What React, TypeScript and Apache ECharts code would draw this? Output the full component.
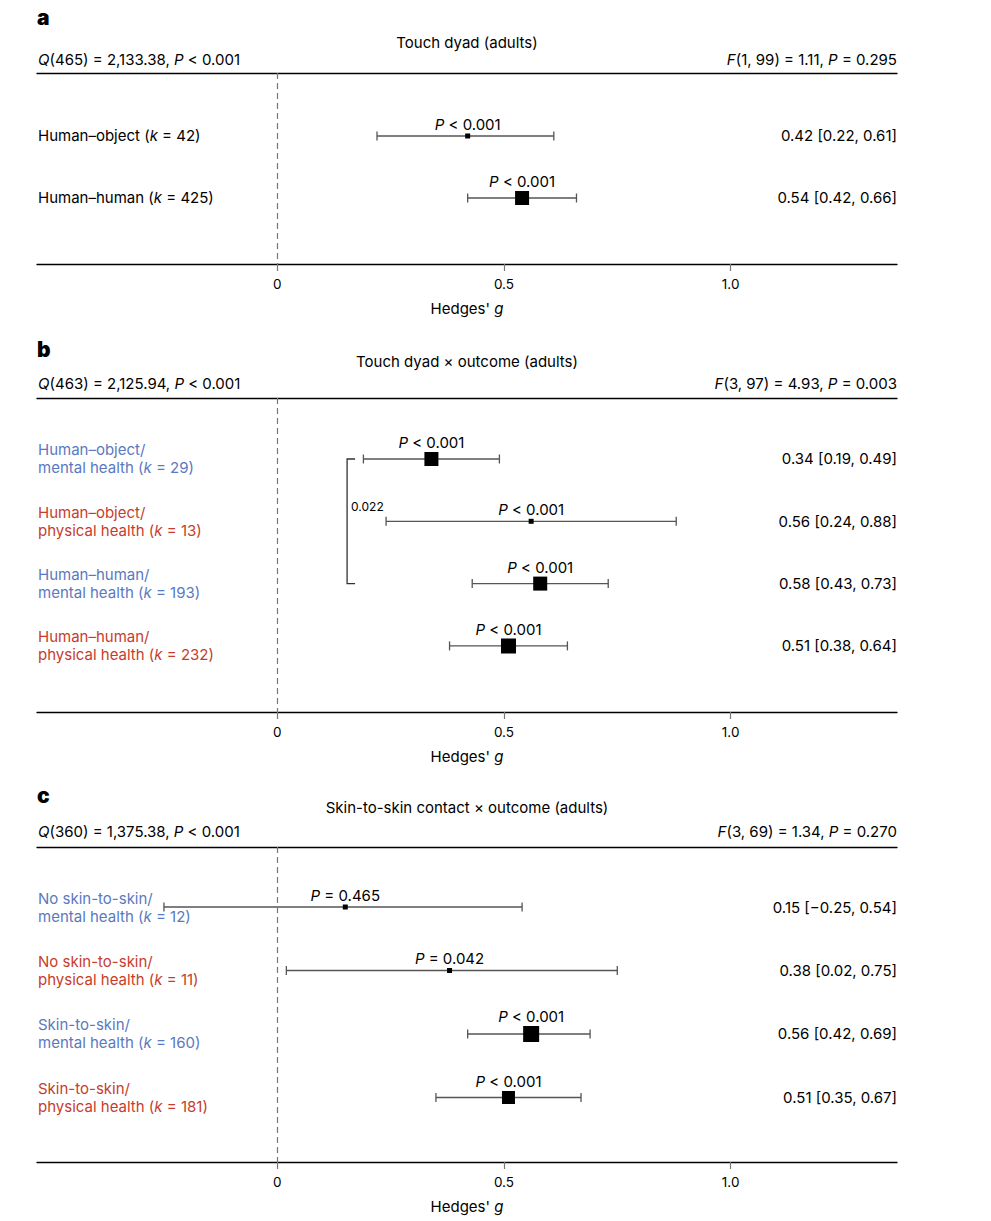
import React, { useEffect, useRef } from "react";
import * as echarts from "echarts";

// ---------- DATA ----------
const panelLetters = ["a", "b", "c"];
const panelTitles = [
  "Touch dyad (adults)",
  "Touch dyad × outcome (adults)",
  "Skin-to-skin contact × outcome (adults)",
];
const qStats = [
  "{i|Q}(465) = 2,133.38, {i|P} < 0.001",
  "{i|Q}(463) = 2,125.94, {i|P} < 0.001",
  "{i|Q}(360) = 1,375.38, {i|P} < 0.001",
];
const fStats = [
  "{i|F}(1, 99) = 1.11, {i|P} = 0.295",
  "{i|F}(3, 97) = 4.93, {i|P} = 0.003",
  "{i|F}(3, 69) = 1.34, {i|P} = 0.270",
];

// Panel a
const aCategories = ["Human–object", "Human–human"];
const aK = [42, 425];
const aOutcome = ["", ""];
const aEst = [0.42, 0.54];
const aLo = [0.22, 0.42];
const aHi = [0.61, 0.66];
const aP = ["< 0.001", "< 0.001"];
const aWeight = [5, 14];

// Panel b
const bCategories = [
  "Human–object/",
  "Human–object/",
  "Human–human/",
  "Human–human/",
];
const bK = [29, 13, 193, 232];
const bOutcome = ["mental health", "physical health", "mental health", "physical health"];
const bEst = [0.34, 0.56, 0.58, 0.51];
const bLo = [0.19, 0.24, 0.43, 0.38];
const bHi = [0.49, 0.88, 0.73, 0.64];
const bP = ["< 0.001", "< 0.001", "< 0.001", "< 0.001"];
const bWeight = [14, 5, 14, 15];
const bContrast = { from: 1, to: 3, p: "0.022" };

// Panel c
const cCategories = [
  "No skin-to-skin/",
  "No skin-to-skin/",
  "Skin-to-skin/",
  "Skin-to-skin/",
];
const cK = [12, 11, 160, 181];
const cOutcome = ["mental health", "physical health", "mental health", "physical health"];
const cEst = [0.15, 0.38, 0.56, 0.51];
const cLo = [-0.25, 0.02, 0.42, 0.35];
const cHi = [0.54, 0.75, 0.69, 0.67];
const cP = ["= 0.465", "= 0.042", "< 0.001", "< 0.001"];
const cWeight = [5, 5, 16, 13];

const xTicks = [0, 0.5, 1.0];

// ---------- LAYOUT ----------
const FONT = "Inter";
const FS = 15;
const BLUE = "#5a79c0";
const RED = "#c63d2b";
const X_MIN = -0.53;
const X_MAX = 1.367;
const LEFT = 37;
const RIGHT_EDGE = 897;
const W = 991;
const H = 1221;

const panels = [
  {
    cats: aCategories, k: aK, outcome: aOutcome, est: aEst, lo: aLo, hi: aHi, p: aP, w: aWeight,
    top: 73, height: 191, yMin: -0.016, yMax: 3.065,
    letterY: 18, titleY: 42, titleX: 467, statY: 59,
  },
  {
    cats: bCategories, k: bK, outcome: bOutcome, est: bEst, lo: bLo, hi: bHi, p: bP, w: bWeight,
    top: 398, height: 314, yMin: 0.021, yMax: 5.061,
    letterY: 350, titleY: 361, titleX: 467, statY: 383,
  },
  {
    cats: cCategories, k: cK, outcome: cOutcome, est: cEst, lo: cLo, hi: cHi, p: cP, w: cWeight,
    top: 847, height: 315, yMin: 0.055, yMax: 5.016,
    letterY: 796, titleY: 807, titleX: 467, statY: 831,
  },
];

function colorFor(outcome: string) {
  if (outcome.startsWith("mental")) return BLUE;
  if (outcome.startsWith("physical")) return RED;
  return "#000";
}

const italicRich = (fill: string, extra: any = {}) => ({
  i: { fontStyle: "italic", fontSize: FS, fontFamily: FONT, fill, ...extra },
});

export default function App() {
  const ref = useRef<HTMLDivElement>(null);

  useEffect(() => {
    if (!ref.current) return;
    const chart = echarts.init(ref.current, null, { renderer: "svg" });

    const grids: any[] = [];
    const xAxes: any[] = [];
    const yAxes: any[] = [];
    const series: any[] = [];
    const graphics: any[] = [];

    panels.forEach((pn, gi) => {
      grids.push({ left: LEFT, right: W - RIGHT_EDGE, top: pn.top, height: pn.height, containLabel: false });
      // bottom axis
      xAxes.push({
        type: "value",
        gridIndex: gi,
        position: "bottom",
        min: X_MIN,
        max: X_MAX,
        axisLine: { show: true, onZero: false, lineStyle: { color: "#000", width: 1.3 } },
        axisTick: { show: true, customValues: xTicks, length: 7, lineStyle: { color: "#777", width: 1.2 } },
        axisLabel: {
          show: true,
          customValues: xTicks,
          margin: 13,
          fontSize: 13.5,
          fontFamily: FONT,
          color: "#000",
          formatter: (v: number) => (v === 0 ? "0" : v.toFixed(1)),
        },
        splitLine: { show: false },
        name: "Hedges' {i|g}",
        nameLocation: "middle",
        nameGap: 37,
        nameTextStyle: {
          fontSize: FS,
          fontFamily: FONT,
          color: "#000",
          rich: { i: { fontStyle: "italic", fontSize: FS, fontFamily: FONT, color: "#000" } },
        },
      });
      // top border
      xAxes.push({
        type: "value",
        gridIndex: gi,
        position: "top",
        min: X_MIN,
        max: X_MAX,
        axisLine: { show: true, onZero: false, lineStyle: { color: "#000", width: 1.3 } },
        axisTick: { show: false },
        axisLabel: { show: false },
        splitLine: { show: false },
      });
      yAxes.push({
        type: "value",
        gridIndex: gi,
        min: pn.yMin,
        max: pn.yMax,
        inverse: true,
        show: false,
        splitLine: { show: false },
      });

      const data = pn.est.map((e, i) => [e, pn.lo[i], pn.hi[i], i + 1, pn.w[i]]);
      series.push({
        type: "custom",
        xAxisIndex: gi * 2,
        yAxisIndex: gi,
        data,
        clip: false,
        renderItem: (params: any, api: any) => {
          const i = params.dataIndex;
          const est = api.value(0);
          const lo = api.value(1);
          const hi = api.value(2);
          const row = api.value(3);
          const size = api.value(4);
          const pE = api.coord([est, row]);
          const pL = api.coord([lo, row]);
          const pH = api.coord([hi, row]);
          const y = pE[1];
          const cap = 4.5;
          const col = colorFor(pn.outcome[i]);
          const labelText = pn.outcome[i]
            ? `${pn.cats[i]}\n${pn.outcome[i]} ({i|k} = ${pn.k[i]})`
            : `${pn.cats[i]} ({i|k} = ${pn.k[i]})`;
          const fmt = (v: number) => (v < 0 ? "−" + Math.abs(v).toFixed(2) : v.toFixed(2));
          return {
            type: "group",
            children: [
              { type: "line", shape: { x1: pL[0], y1: y, x2: pH[0], y2: y }, style: { stroke: "#555", lineWidth: 1.3 } },
              { type: "line", shape: { x1: pL[0], y1: y - cap, x2: pL[0], y2: y + cap }, style: { stroke: "#555", lineWidth: 1.3 } },
              { type: "line", shape: { x1: pH[0], y1: y - cap, x2: pH[0], y2: y + cap }, style: { stroke: "#555", lineWidth: 1.3 } },
              { type: "rect", shape: { x: pE[0] - size / 2, y: y - size / 2, width: size, height: size }, style: { fill: "#000" } },
              {
                type: "text",
                x: pE[0],
                y: y - size / 2 - 9,
                style: {
                  text: `{i|P} ${pn.p[i]}`,
                  align: "center",
                  verticalAlign: "middle",
                  fontSize: FS,
                  fontFamily: FONT,
                  fill: "#000",
                  rich: italicRich("#000"),
                },
              },
              {
                type: "text",
                x: 38,
                y: y,
                style: {
                  text: labelText,
                  align: "left",
                  verticalAlign: "middle",
                  fontSize: FS,
                  lineHeight: 18,
                  fontFamily: FONT,
                  fill: col,
                  rich: italicRich(col, { lineHeight: 18 }),
                },
              },
              {
                type: "text",
                x: RIGHT_EDGE,
                y: y,
                style: {
                  text: `${fmt(est)} [${fmt(lo)}, ${fmt(hi)}]`,
                  align: "right",
                  verticalAlign: "middle",
                  fontSize: FS,
                  fontFamily: FONT,
                  fill: "#000",
                },
              },
            ],
          };
        },
        markLine: {
          silent: true,
          symbol: ["none", "none"],
          label: { show: false },
          lineStyle: { type: [6, 4], color: "#777", width: 1.2 },
          data: [{ xAxis: 0 }],
        },
        z: 3,
      });

      // header texts
      graphics.push(
        {
          type: "text",
          left: 37,
          top: pn.letterY - 11,
          style: { text: panelLetters[gi], fontSize: 21, fontWeight: 900, fontFamily: "Inter", fill: "#000" },
        },
        {
          type: "text",
          x: pn.titleX,
          y: pn.titleY,
          style: { text: panelTitles[gi], fontSize: FS, fontFamily: FONT, fill: "#000", align: "center", verticalAlign: "middle" },
        },
        {
          type: "text",
          x: 38,
          y: pn.statY,
          style: {
            text: qStats[gi],
            fontSize: FS,
            fontFamily: FONT,
            fill: "#000",
            align: "left",
            verticalAlign: "middle",
            rich: italicRich("#000"),
          },
        },
        {
          type: "text",
          x: RIGHT_EDGE,
          y: pn.statY,
          style: {
            text: fStats[gi],
            fontSize: FS,
            fontFamily: FONT,
            fill: "#000",
            align: "right",
            verticalAlign: "middle",
            rich: italicRich("#000"),
          },
        }
      );
    });

    // contrast bracket for panel b
    series.push({
      type: "custom",
      xAxisIndex: 2,
      yAxisIndex: 1,
      data: [[0.154, bContrast.from, bContrast.to]],
      clip: false,
      renderItem: (params: any, api: any) => {
        const x = api.value(0);
        const p1 = api.coord([x, api.value(1)]);
        const p2 = api.coord([x, api.value(2)]);
        const ly = p1[1] + (p2[1] - p1[1]) * 0.385;
        return {
          type: "group",
          children: [
            {
              type: "polyline",
              shape: { points: [[p1[0] + 8, p1[1]], [p1[0], p1[1]], [p2[0], p2[1]], [p2[0] + 8, p2[1]]] },
              style: { stroke: "#333", lineWidth: 1.3, fill: "none" },
            },
            {
              type: "text",
              x: p1[0] + 4,
              y: ly,
              style: { text: bContrast.p, fontSize: 12, fontFamily: FONT, fill: "#000", align: "left", verticalAlign: "middle" },
            },
          ],
        };
      },
      z: 3,
    });

    chart.setOption({
      animation: false,
      backgroundColor: "#fff",
      grid: grids,
      xAxis: xAxes,
      yAxis: yAxes,
      series,
      graphic: graphics,
    });

    return () => chart.dispose();
  }, []);

  return (
    <div
      ref={ref}
      style={{ position: "absolute", left: 0, top: 0, width: W, height: H, background: "#fff" }}
    />
  );
}
